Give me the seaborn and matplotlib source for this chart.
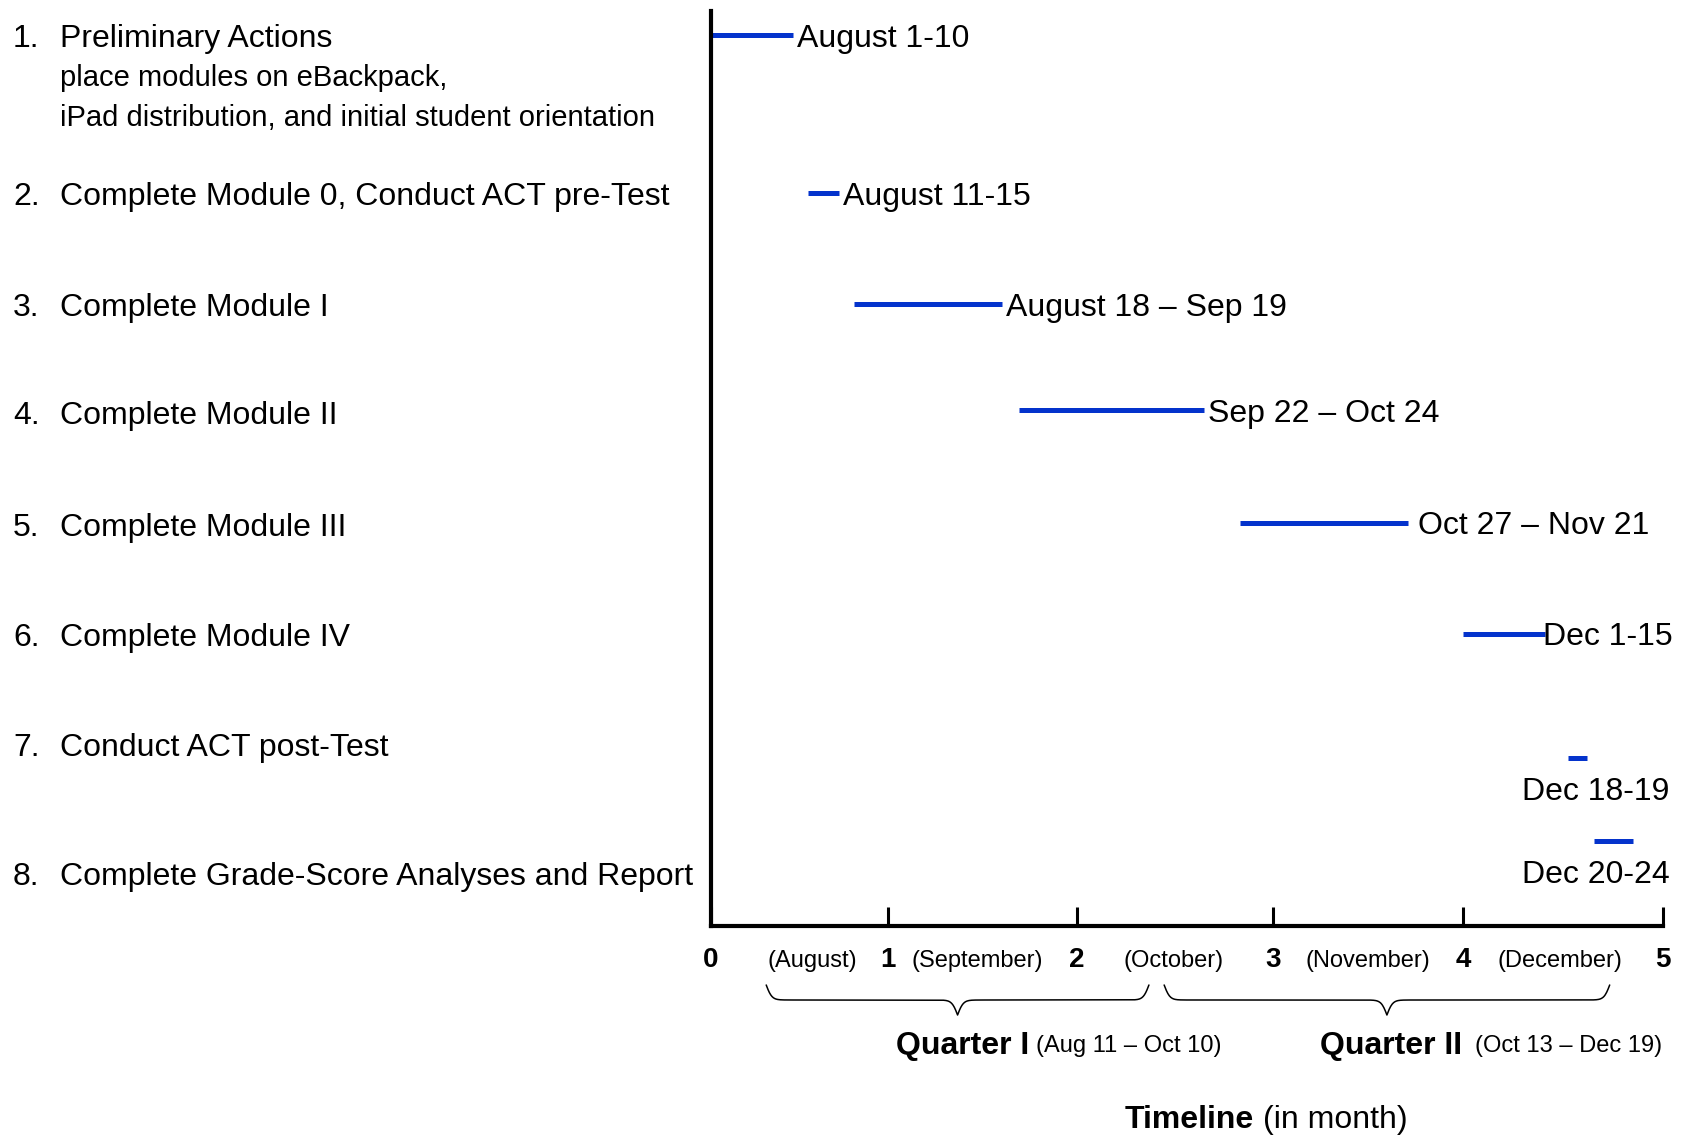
"""Project timeline (Gantt style) for the module / ACT schedule."""
import numpy as np
import pandas as pd
import matplotlib
matplotlib.use('Agg')
import matplotlib.pyplot as plt
import matplotlib.transforms as mtransforms
from matplotlib.lines import Line2D
import seaborn as sns

# data: x is in months counted from August 1
tasks = ['Preliminary Actions',
         'Complete Module 0, Conduct ACT pre-Test',
         'Complete Module I',
         'Complete Module II',
         'Complete Module III',
         'Complete Module IV',
         'Conduct ACT post-Test',
         'Complete Grade-Score Analyses and Report']
task_notes = ['place modules on eBackpack,',
              'iPad distribution, and initial student orientation']
starts = [0.0, 0.51, 0.75, 1.62, 2.78, 3.95, 4.50, 4.64]
ends = [0.43, 0.67, 1.53, 2.59, 3.66, 4.38, 4.60, 4.84]
date_labels = ['August 1-10', 'August 11-15', 'August 18 \u2013 Sep 19',
               'Sep 22 \u2013 Oct 24', 'Oct 27 \u2013 Nov 21', 'Dec 1-15',
               'Dec 18-19', 'Dec 20-24']
month_ticks = ['0', '1', '2', '3', '4', '5']
month_names = ['(August)', '(September)', '(October)', '(November)', '(December)']
quarters = ['Quarter I', 'Quarter II']
quarter_dates = ['(Aug 11 \u2013 Oct 10)', '(Oct 13 \u2013 Dec 19)']
quarter_start = [0.29, 2.38]
quarter_end = [2.30, 4.72]

# layout (row and tick positions are uneven in the original)
row_pos = [0.22, 1.64, 2.64, 3.595, 4.61, 5.61, 6.73, 7.48]
name_pos = [0.22, 1.64, 2.64, 3.62, 4.63, 5.62, 6.61, 7.77]
note_pos = [0.58, 0.94]
tick_pos = [0, 0.93, 1.92, 2.95, 3.95, 5]
month_pos = [0.53, 1.40, 2.43, 3.45, 4.46]
label_gap = [4, 4, 4, 4, 10, -2]
quarter_text_x = [(0.97, 1.707), (3.20, 4.01)]
BLUE = '#0433CC'
W, H = 1684, 1136

sns.set_theme(style='white')
plt.rcParams['font.family'] = ['Liberation Sans', 'DejaVu Sans']
plt.rcParams['text.color'] = 'black'
plt.rcParams['xtick.color'] = 'black'
plt.rcParams['xtick.labelcolor'] = 'black'

fig = plt.figure(figsize=(W / 100, H / 100), dpi=100)
ax = fig.add_axes([711 / W, 1 - 926 / H, (1663 - 711) / W, (926 - 11) / H])

# bars as thick line segments
df = pd.DataFrame({'task': tasks * 2, 'x': starts + ends, 'y': row_pos * 2})
sns.lineplot(data=df, x='x', y='y', units='task', estimator=None, sort=False,
             color=BLUE, lw=3.6, solid_capstyle='butt', legend=False, ax=ax)

ax.set_xlim(0, 5)
ax.set_ylim((926 - 11) / 111, 0)
ax.set_xlabel('')
ax.set_ylabel('')
ax.set_yticks([])

for side in ['top', 'right']:
    ax.spines[side].set_visible(False)
for side in ['left', 'bottom']:
    ax.spines[side].set_linewidth(3)
    ax.spines[side].set_color('black')

# month numbers (major) and month names (minor)
ax.set_xticks(tick_pos)
ax.set_xticklabels(month_ticks, fontsize=20, fontweight='bold')
ax.set_xticks(month_pos, minor=True)
ax.set_xticklabels(month_names, minor=True, fontsize=17)
ax.tick_params(axis='x', which='major', direction='in', length=14, width=2.2,
               color='black', pad=15, bottom=True)
ax.tick_params(axis='x', which='minor', length=0, pad=17, bottom=True)

# date labels next to the bars
for i, lab in enumerate(date_labels):
    if i < len(label_gap):
        ax.annotate(lab, (ends[i], row_pos[i]), xytext=(label_gap[i], 0),
                    textcoords='offset pixels', ha='left', va='center_baseline',
                    fontsize=23)
    else:
        ax.annotate(lab, (1.007, row_pos[i]), xycoords=('axes fraction', 'data'),
                    xytext=(0, -30), textcoords='offset pixels',
                    ha='right', va='center_baseline', fontsize=23)

# task names on the left
tr_left = mtransforms.blended_transform_factory(fig.transFigure, ax.transData)
for i, name in enumerate(tasks):
    ax.text(13 / W, name_pos[i], '{}.'.format(i + 1), transform=tr_left,
            ha='left', va='center_baseline', fontsize=23, clip_on=False)
    ax.text(60 / W, name_pos[i], name, transform=tr_left,
            ha='left', va='center_baseline', fontsize=23, clip_on=False)
for note, y in zip(task_notes, note_pos):
    ax.text(60 / W, y, note, transform=tr_left, ha='left', va='center_baseline',
            fontsize=21, clip_on=False)


def draw_brace(x0, x1, top_px, height=30, beta=0.35):
    """Curly brace under the axis between data x0 and x1, drawn in pixels."""
    p0 = ax.transData.transform((x0, 0))[0]
    p1 = ax.transData.transform((x1, 0))[0]
    half = (p1 - p0) / 2
    xs = np.linspace(0, half, 300)
    ys = 1 / (1 + np.exp(-beta * xs)) + 1 / (1 + np.exp(-beta * (xs - half)))
    px = np.concatenate([p0 + xs, p1 - xs[::-1]])
    py = np.concatenate([ys, ys[::-1]])
    py = (H - top_px) - (py - 0.5) * height
    fig.add_artist(Line2D(px / W, py / H, transform=fig.transFigure,
                          color='black', lw=1.1))


tr_bottom = mtransforms.blended_transform_factory(ax.transData, fig.transFigure)
for q in range(len(quarters)):
    draw_brace(quarter_start[q], quarter_end[q], 985)
    xb, xd = quarter_text_x[q]
    ax.text(xb, 1 - 1046 / H, quarters[q], transform=tr_bottom, ha='left',
            va='center', fontsize=23, fontweight='bold')
    ax.text(xd, 1 - 1046 / H, quarter_dates[q], transform=tr_bottom, ha='left',
            va='center', fontsize=17)

ax.text(2.175, 1 - 1120 / H, 'Timeline', transform=tr_bottom, ha='left',
        va='center', fontsize=23, fontweight='bold')
ax.text(2.90, 1 - 1120 / H, '(in month)', transform=tr_bottom, ha='left',
        va='center', fontsize=23)

fig.savefig('out.png', dpi=100)
